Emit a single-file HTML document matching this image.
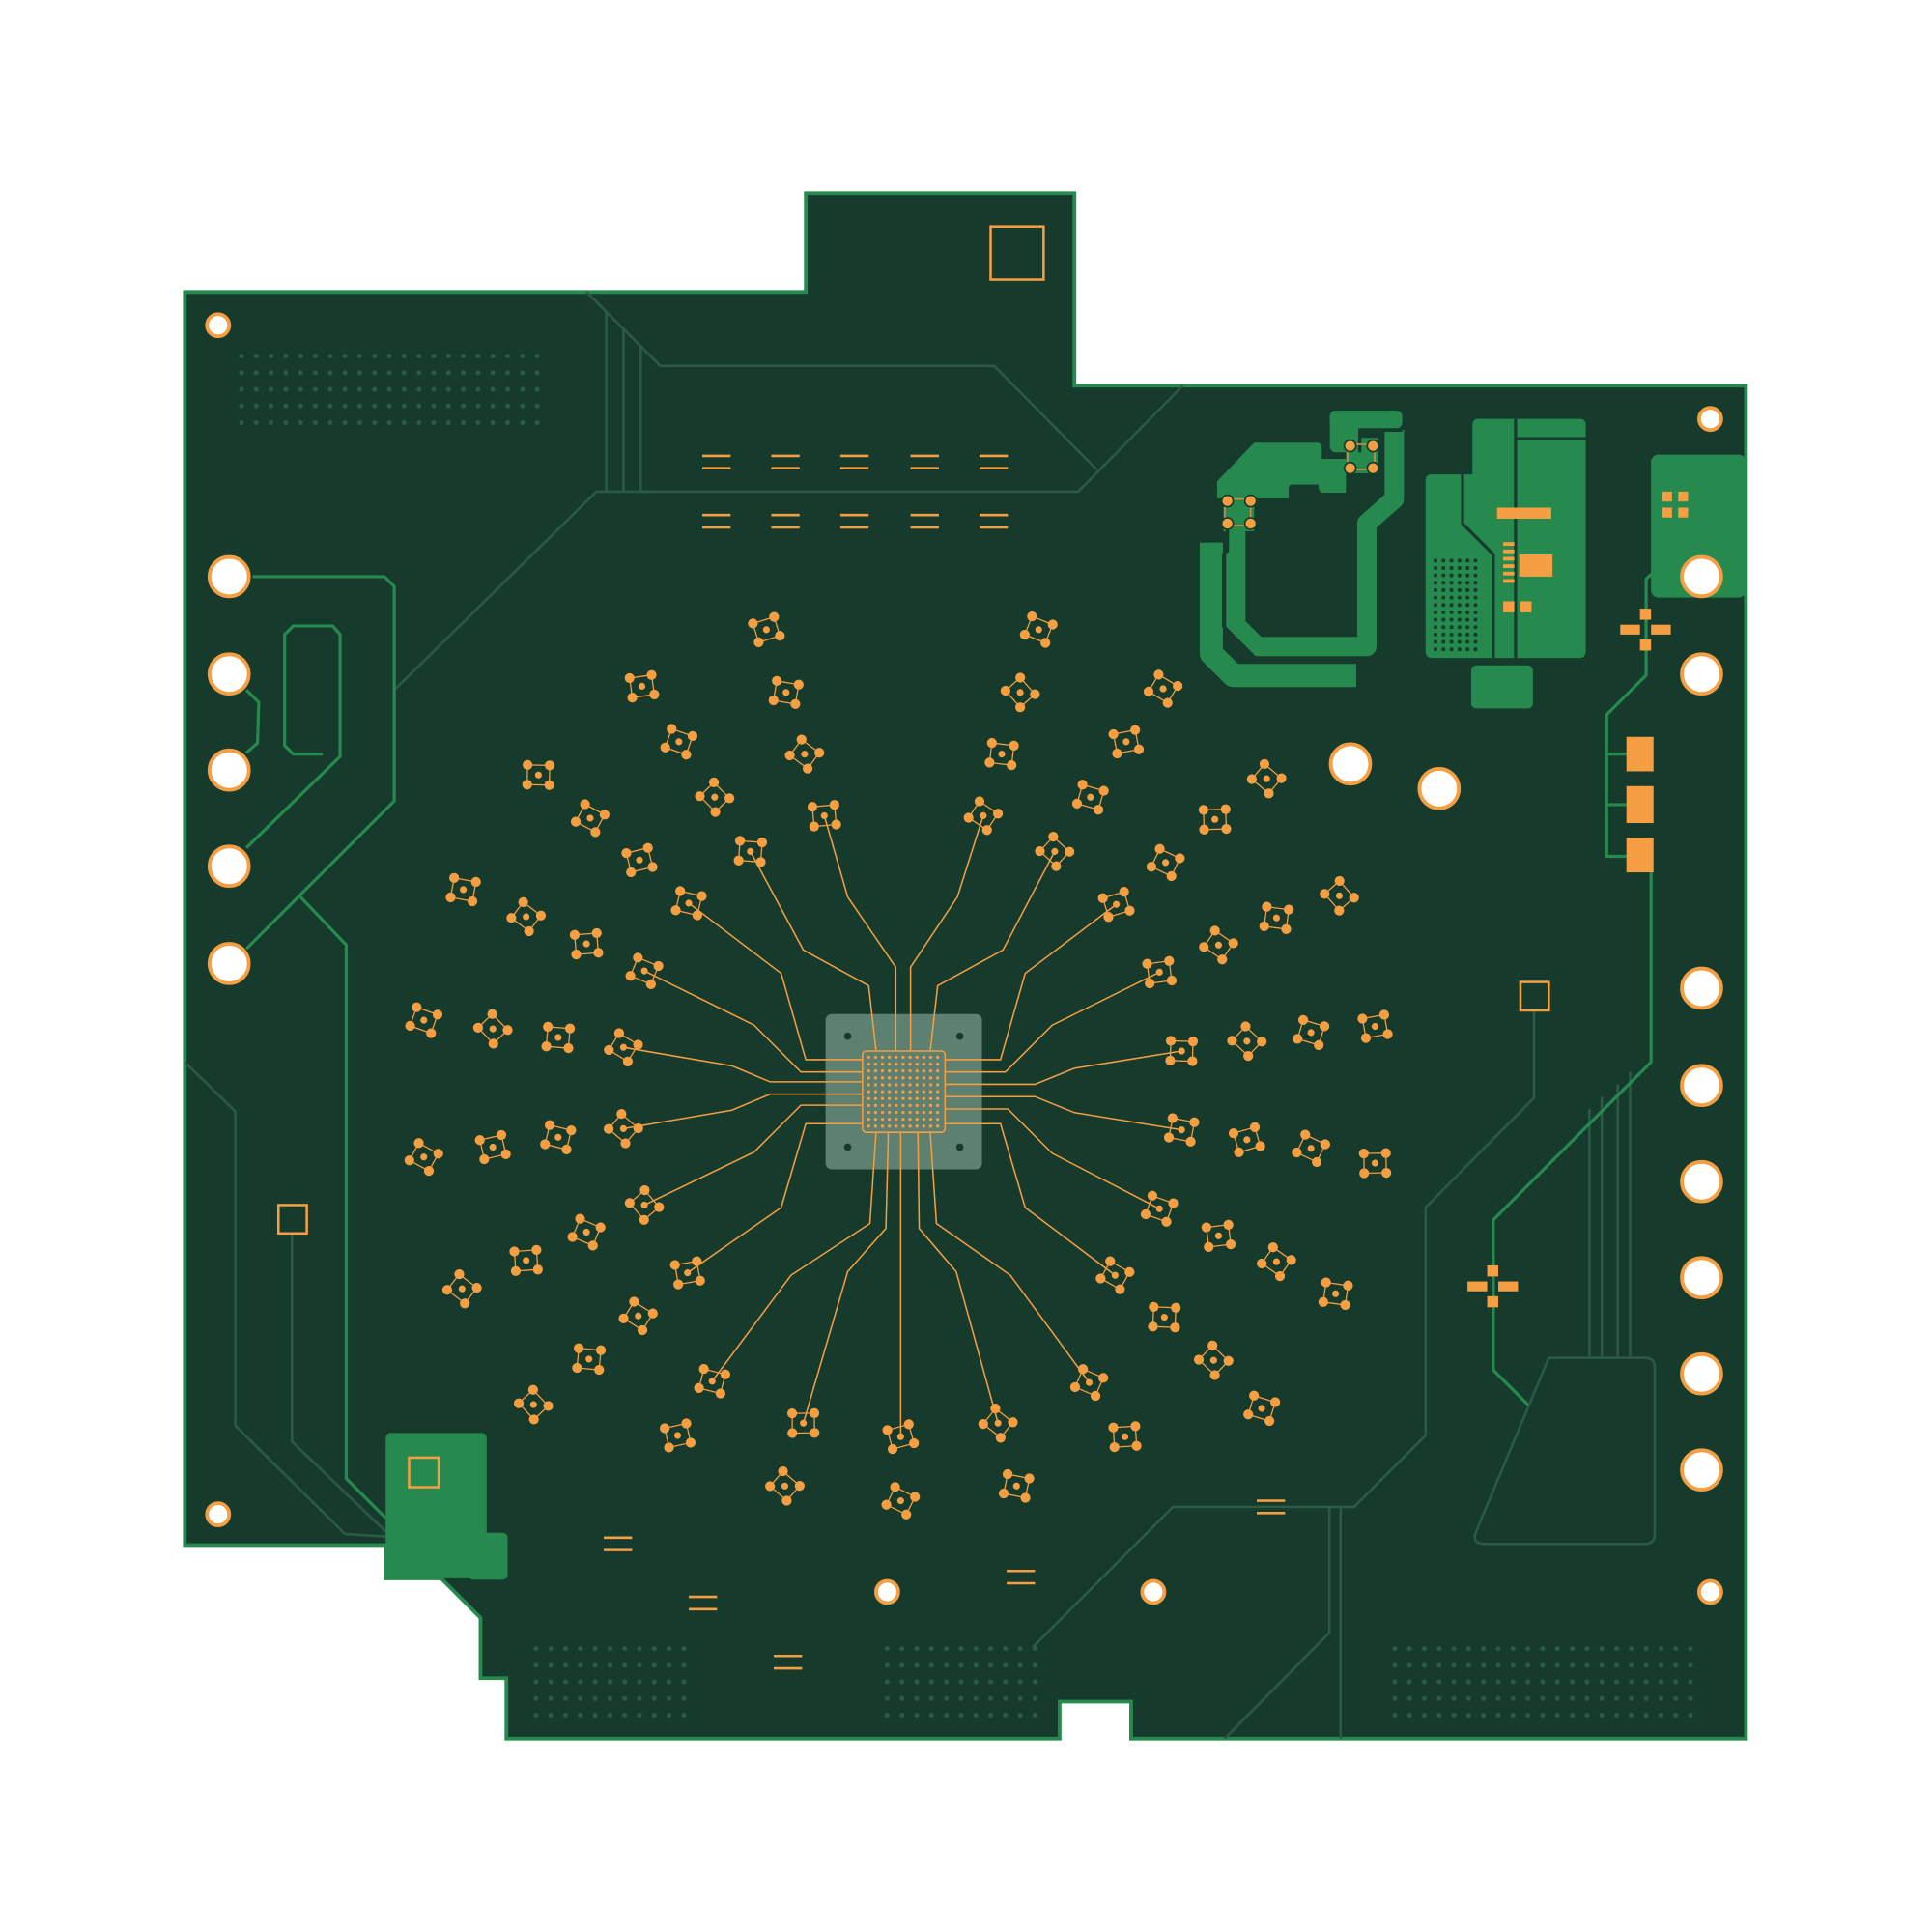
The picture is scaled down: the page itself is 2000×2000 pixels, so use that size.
<!DOCTYPE html>
<html><head><meta charset="utf-8"><style>html,body{margin:0;padding:0;background:#fff}svg{display:block}</style></head>
<body>
<svg id="s" width="2000" height="2000" viewBox="0 0 1568 1568" xmlns="http://www.w3.org/2000/svg">
<rect width="1568" height="1568" fill="#fff"/>
<polygon points="150,237 654,237 654,157 872,157 872,313 1417,313 1417,1411 918,1411 918,1381 860,1381 860,1411 411,1411 411,1362 390,1362 390,1313 358,1281 313,1281 313,1254 150,1254" fill="#163b2d" stroke="#268a4f" stroke-width="3"/>
<g id="dots" fill="#2c5a44"></g>
<g fill="none" stroke="#2c5a44" stroke-width="2">
<polyline points="476,237 536,297 807,297 890,381"/>
<line x1="492" y1="252" x2="492" y2="399"/><line x1="506" y1="265" x2="506" y2="399"/><line x1="520" y1="280" x2="520" y2="399"/>
<polyline points="320,560 484,399 875,399 960,313"/>
<polyline points="150,862 191,902 191,1157 280,1245 313,1247"/>
<polyline points="237,1000 237,1170 313,1243"/>
<polyline points="1245,820 1245,891 1157,980 1157,1165 1099,1223 952,1223 838,1337"/>
<polyline points="1079,1223 1079,1325 994,1411"/>
<line x1="1088" y1="1223" x2="1088" y2="1411"/>
<line x1="1290" y1="900" x2="1290" y2="1102"/><line x1="1300" y1="890" x2="1300" y2="1102"/><line x1="1313" y1="880" x2="1313" y2="1102"/><line x1="1323" y1="870" x2="1323" y2="1102"/>
<path d="M1257,1102 H1335 Q1343,1102 1343,1110 V1245 Q1343,1253 1335,1253 H1205 Q1194,1253 1198,1243 Z"/>
</g>
<g fill="none" stroke="#268a4f" stroke-width="2.5">
<polyline points="205,468 312,468 320,476 320,650 243,727 200,770"/>
<polyline points="200,688 276,614 276,515 270,508 238,508 231,515 231,605 238,612 262,612"/>
<polyline points="200,560 210,570 209,603 200,611"/>
<polyline points="243,727 281,767 281,1200 313,1232"/>
<polyline points="1340,700 1340,862 1212,990 1212,1112 1240,1140"/>
<polyline points="1352,455 1336,470 1336,548 1304,580 1304,695 1320,695"/>
<line x1="1304" y1="612" x2="1320" y2="612"/><line x1="1304" y1="653" x2="1320" y2="653"/>
</g>
<g fill="#268a4f">
<rect x="1340" y="369" width="77" height="116" rx="6"/>
<path d="M1195,345 Q1195,340 1200,340 H1282 Q1287,340 1287,345 V528 Q1287,534 1282,534 H1162 Q1157,534 1157,528 V390 Q1157,385 1162,385 H1195 Z"/>
<rect x="1194" y="540" width="50" height="35" rx="4"/>
<rect x="313" y="1163" width="82" height="118" rx="4"/><rect x="380" y="1244" width="32" height="38" rx="4"/>
</g>
<g transform="translate(964.3,321.4) scale(0.26133)">
<g fill="none" stroke="#268a4f" stroke-linejoin="round">
<polyline points="72,455 72,800 140,868 522,868" stroke-width="72"/>
<polyline points="148,420 148,712 215,778 555,778 555,395 640,320 640,105" stroke-width="60"/>
</g>
<g fill="#268a4f">
<path d="M90,265 L205,145 H400 Q415,145 415,160 V195 H490 V300 H420 Q408,300 405,285 V275 H320 Q312,275 312,290 V318 H90 Z"/>
<rect x="440" y="45" width="225" height="55" rx="18"/>
<rect x="440" y="45" width="93" height="130" rx="18"/>
<rect x="490" y="130" width="100" height="110"/>
<rect x="110" y="300" width="95" height="120"/>
</g>
<g fill="none" stroke="#163b2d" stroke-width="10">
<polyline points="533,175 533,106 665,106"/>
<polyline points="122,396 122,480 110,492 110,715 213,818 525,818"/>
</g>
<g fill="none" stroke="#c8904a" stroke-width="5"><rect x="114" y="320" width="80" height="82"/><rect x="495" y="150" width="84" height="78"/></g>
<g fill="#f59e42" stroke="#163b2d" stroke-width="5">
<circle cx="122" cy="326" r="18"/><circle cx="194" cy="326" r="18"/><circle cx="122" cy="396" r="18"/><circle cx="194" cy="396" r="18"/>
<circle cx="503" cy="155" r="18"/><circle cx="574" cy="155" r="18"/><circle cx="503" cy="224" r="18"/><circle cx="574" cy="224" r="18"/>
</g>
</g>
<g fill="none" stroke="#163b2d" stroke-width="2.5">
<polyline points="1187,385 1187,425 1212,450 1212,534"/><line x1="1230" y1="340" x2="1230" y2="534"/><line x1="1230" y1="356" x2="1287" y2="356"/>
</g>
<g id="bdots" fill="#163b2d"></g>
<g fill="#f59e42">
<rect x="1215" y="412" width="44" height="9"/><rect x="1233" y="450" width="27" height="18"/><rect x="1220" y="488" width="9" height="9"/><rect x="1234" y="488" width="9" height="9"/>
<rect x="1220" y="440" width="9" height="3"/><rect x="1220" y="446" width="9" height="3"/><rect x="1220" y="452" width="9" height="3"/><rect x="1220" y="458" width="9" height="3"/><rect x="1220" y="464" width="9" height="3"/><rect x="1220" y="470" width="9" height="3"/>
<rect x="1349" y="399" width="8" height="8"/><rect x="1362" y="399" width="8" height="8"/><rect x="1349" y="412" width="8" height="8"/><rect x="1362" y="412" width="8" height="8"/>
<rect x="1320" y="598" width="22" height="28"/><rect x="1320" y="638" width="22" height="30"/><rect x="1320" y="680" width="22" height="28"/>
<rect x="1315" y="507" width="16" height="8"/><rect x="1340" y="507" width="16" height="8"/><rect x="1331" y="494" width="9" height="9"/><rect x="1331" y="519" width="9" height="9"/>
<rect x="1191" y="1040" width="16" height="8"/><rect x="1216" y="1040" width="16" height="8"/><rect x="1207" y="1027" width="9" height="9"/><rect x="1207" y="1052" width="9" height="9"/>
</g>
<g fill="none" stroke="#f59e42" stroke-width="2">
<rect x="804" y="184" width="43" height="43"/><rect x="1234" y="797" width="23" height="23"/><rect x="226" y="978" width="23" height="23"/><rect x="332" y="1183" width="24" height="24"/>
</g>
<g id="dash" stroke="#f59e42" stroke-width="2"></g>
<rect x="670" y="823" width="127" height="126" rx="5" fill="#6a8d7c" opacity="0.85"/>
<g fill="#163b2d"><circle cx="688" cy="841" r="3"/><circle cx="779" cy="841" r="3"/><circle cx="688" cy="931" r="3"/><circle cx="779" cy="931" r="3"/></g>
<g id="traces" fill="none" stroke="#f59e42" stroke-width="1.2"></g>
<rect x="700" y="853" width="67" height="66" rx="3" fill="#5f7f70" stroke="#f59e42" stroke-width="1.2"/>
<g id="chip" fill="#f59e42"></g>
<g id="vias"></g>
<g fill="#fff" stroke="#f59e42" stroke-width="3">
<circle cx="186" cy="468" r="16"/><circle cx="186" cy="547" r="16"/><circle cx="186" cy="625" r="16"/><circle cx="186" cy="703" r="16"/><circle cx="186" cy="782" r="16"/>
<circle cx="1381" cy="468" r="16"/><circle cx="1381" cy="547" r="16"/><circle cx="1381" cy="802" r="16"/><circle cx="1381" cy="881" r="16"/><circle cx="1381" cy="959" r="16"/><circle cx="1381" cy="1037" r="16"/><circle cx="1381" cy="1115" r="16"/><circle cx="1381" cy="1193" r="16"/>
<circle cx="1096" cy="620" r="16"/><circle cx="1168" cy="640" r="16"/>
<circle cx="177" cy="264" r="9"/><circle cx="1388" cy="340" r="9"/><circle cx="177" cy="1229" r="9"/><circle cx="1388" cy="1292" r="9"/><circle cx="720" cy="1292" r="9"/><circle cx="936" cy="1292" r="9"/>
</g>
</svg>
<script>
const NS="http://www.w3.org/2000/svg";
function el(p,t,a){const e=document.createElementNS(NS,t);for(const k in a)e.setAttribute(k,a[k]);document.getElementById(p).appendChild(e);return e;}
function grid(p,x0,y0,nx,ny,dx,dy,r){for(let i=0;i<nx;i++)for(let j=0;j<ny;j++)el(p,"circle",{cx:x0+i*dx,cy:y0+j*dy,r:r});}
grid("dots",196,289,21,5,12,13.5,2);grid("dots",435,1338,11,5,12,13.5,2);grid("dots",720,1338,11,5,12,13.5,2);grid("dots",1132,1338,21,5,12,13.5,2);
grid("bdots",1165,455,6,13,6.5,6,1.6);
[[570,370],[626,370],[682,370],[739,370],[795,370],[570,418],[626,418],[682,418],[739,418],[795,418],[490,1248],[559,1296],[628,1344],[817,1275],[1020,1218]].forEach(([x,y])=>{el("dash","line",{x1:x,y1:y,x2:x+23,y2:y});el("dash","line",{x1:x,y1:y+10,x2:x+23,y2:y+10});});
grid("chip",705,858,11,11,5.6,5.6,1.3);
const V=[[622,511],[638,562],[653,612],[669,662],[843,511],[828,562],[813,612],[798,662],[521,557],[551,602],[580,647],[609,691],[944,559],[914,602],[885,647],[856,691],[437,629],[479,664],[519,698],[559,733],[1028,632],[986,665],[946,700],[906,734],[376,722],[427,744],[476,766],[523,788],[1087,727],[1036,745],[989,767],[941,789],[344,828],[400,835],[453,842],[506,850],[1116,833],[1064,838],[1012,845],[959,853],[344,939],[400,931],[453,923],[506,916],[1116,944],[1064,932],[1012,925],[959,917],[375,1046],[427,1023],[476,1000],[523,978],[1084,1050],[1036,1024],[989,1003],[941,981],[433,1140],[478,1103],[518,1068],[558,1033],[1024,1143],[985,1104],[945,1069],[905,1035],[550,1165],[578,1121],[637,1206],[652,1155],[731,1218],[731,1166],[825,1206],[810,1155],[913,1166],[884,1122]];
V.forEach(([x,y],i)=>{const a=(i*0.47)%1.2-0.3;const g=el("vias","g",{transform:`translate(${x},${y}) rotate(${a*57})`});
const pts=[[-9,-8],[9,-8],[9,8],[-9,8]];
const pl=document.createElementNS(NS,"polygon");pl.setAttribute("points",pts.map(p=>p.join(",")).join(" "));pl.setAttribute("fill","none");pl.setAttribute("stroke","#f59e42");pl.setAttribute("stroke-width","1");g.appendChild(pl);
pts.concat([[0,0]]).forEach(([px,py],k)=>{const ci=document.createElementNS(NS,"circle");ci.setAttribute("cx",px);ci.setAttribute("cy",py);ci.setAttribute("r",k==4?2.8:4);ci.setAttribute("fill","#f59e42");g.appendChild(ci);});});
const T=["669,662 688,728 727,785 727,853","798,662 777,728 739,785 739,853","609,691 652,771 705,800 711,853","856,691 814,771 761,800 755,853",
"559,733 634,790 654,860 700,860","906,734 832,790 812,860 767,860","523,788 612,832 650,870 700,870","941,789 854,832 816,870 767,870",
"506,850 594,865 625,878 700,878","959,853 872,867 840,880 767,880","506,916 594,901 625,888 700,888","959,917 872,903 840,890 767,890",
"523,978 612,935 650,897 700,897","941,981 854,936 818,900 767,900","558,1033 634,980 654,912 700,912","905,1035 832,980 812,912 767,912",
"578,1121 642,1035 706,993 711,919","884,1122 820,1035 760,993 755,919","652,1155 688,1032 719,997 721,919","810,1155 776,1032 746,997 745,919","731,1166 731,919"];
T.forEach(p=>el("traces","polyline",{points:p}));
</script>
</body></html>
